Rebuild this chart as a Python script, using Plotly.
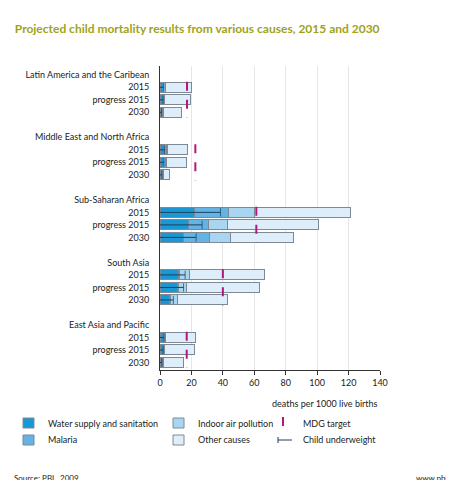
import plotly.graph_objects as go

regions = ["Latin America and the Caribean", "Middle East and North Africa",
           "Sub-Saharan Africa", "South Asia", "East Asia and Pacific"]
scenarios = ["2015", "progress 2015", "2030"]

# per region, per scenario (2015, progress 2015, 2030)
water = [[2, 2, 1], [3, 2.5, 1], [22, 18, 15], [12, 11.3, 6], [2.3, 2, 1.5]]
malaria = [[0.5, 0.5, 0.3], [1, 1, 0.5], [21.6, 12.6, 16.4], [0.5, 0.5, 0.5], [0.3, 0.3, 0.2]]
indoor = [[0.8, 0.5, 0.7], [1, 0.5, 0.5], [16.6, 12.2, 13.3], [6.5, 4.8, 4.5], [1.2, 0.7, 0.3]]
total = [[20, 19.6, 13.6], [17.5, 16.6, 6], [121.5, 101, 84.7], [66.4, 63.4, 42.8], [22.8, 22, 15]]
underweight = [[2.5, 2, 1], [3, 2.5, 1.2], [38.5, 26.8, 23], [16, 15, 8.5], [2.5, 2, 1.2]]
mdg = [17.2, 22.5, 61.3, 40, 17]

C_WATER, C_MAL, C_IND, C_OTH = "#1a98d5", "#63b4e4", "#aad5f1", "#ddedf9"
EDGE = "#7d8a96"
MDG_COL = "#b0177f"
UW_COL = "#1d3f5e"

# y positions: header row then 3 scenario rows, plus spacer
tickvals, ticktext, group_rows = [], [], []
pos = 0
for r in regions:
    tickvals.append(pos); ticktext.append(r)
    rows = []
    for s in scenarios:
        pos += 1
        rows.append(pos)
        tickvals.append(pos); ticktext.append(s)
    group_rows.append(rows)
    pos += 2

yy = [y for rows in group_rows for y in rows]
flat = lambda a: [v for g in a for v in g]
w, m, i, t = flat(water), flat(malaria), flat(indoor), flat(total)
other = [tt - a - b - c for tt, a, b, c in zip(t, w, m, i)]

fig = go.Figure()
bar_specs = [("Water supply and sanitation", w, C_WATER),
             ("Malaria", m, C_MAL),
             ("Indoor air pollution", i, C_IND),
             ("Other causes", other, C_OTH)]
for name, vals, col in bar_specs:
    fig.add_trace(go.Bar(y=yy, x=vals, orientation="h", name=name, width=0.8,
                         marker=dict(color=col, line=dict(color=EDGE, width=1))))

for gi, rows in enumerate(group_rows):
    fig.add_trace(go.Scatter(x=[mdg[gi], mdg[gi]], y=[rows[0] - 0.45, rows[-1] + 0.45],
                             mode="lines", line=dict(color=MDG_COL, dash="dash", width=2),
                             name="MDG target"))
    for k, y in enumerate(rows):
        fig.add_trace(go.Scatter(x=[0, underweight[gi][k]], y=[y, y], mode="lines+markers",
                                 line=dict(color=UW_COL, width=1),
                                 marker=dict(symbol="line-ns", size=[0, 6],
                                             line=dict(color=UW_COL, width=1)),
                                 name="Child underweight"))

fig.update_layout(
    width=454, height=480, barmode="stack", showlegend=False,
    plot_bgcolor="white", paper_bgcolor="white",
    font=dict(family="Lato, Open Sans, sans-serif", size=9, color="#222"),
    margin=dict(l=152, r=82, t=58, b=118, autoexpand=False),
    title=dict(text="<b>Projected child mortality results from various causes, 2015 and 2030</b>",
               x=0.015, y=0.965, xanchor="left", font=dict(size=12, color="#9ea31a")),
    xaxis=dict(range=[0, 140], dtick=20, showgrid=True, gridcolor="#e6e6e6",
               showline=True, linecolor="#333", ticks="outside", ticklen=4,
               tickcolor="#333", zeroline=False),
    yaxis=dict(tickvals=tickvals, ticktext=ticktext, autorange=False,
               range=[pos - 1.4, -0.7], showline=True, linecolor="#333",
               showgrid=False, zeroline=False, ticks="", ticklabelstandoff=8),
)
fig.add_annotation(text="deaths per 1000 live births", xref="paper", yref="paper",
                   x=1, y=-0.085, xanchor="right", yanchor="top", showarrow=False,
                   font=dict(size=9))

# manual legend (paper coords, px converted)
pw, ph = 454 - 152 - 82, 480 - 58 - 118
def px(xp): return (xp - 152) / pw
def py(yp): return (480 - 118 - yp) / ph

legend = [(15, 415, "Water supply and sanitation", "box", C_WATER),
          (15, 432, "Malaria", "box", C_MAL),
          (165, 415, "Indoor air pollution", "box", C_IND),
          (165, 432, "Other causes", "box", C_OTH),
          (270, 415, "MDG target", "mdg", MDG_COL),
          (270, 432, "Child underweight", "uw", UW_COL)]
for x0, yc, label, kind, col in legend:
    if kind == "box":
        fig.add_shape(type="rect", xref="paper", yref="paper",
                      x0=px(x0), x1=px(x0 + 11), y0=py(yc - 5), y1=py(yc + 5),
                      fillcolor=col, line=dict(color=EDGE, width=1))
    elif kind == "mdg":
        fig.add_shape(type="line", xref="paper", yref="paper",
                      x0=px(x0 + 5), x1=px(x0 + 5), y0=py(yc - 6), y1=py(yc + 6),
                      line=dict(color=MDG_COL, width=2, dash="dash"))
    else:
        fig.add_shape(type="line", xref="paper", yref="paper",
                      x0=px(x0), x1=px(x0 + 14), y0=py(yc), y1=py(yc),
                      line=dict(color=col, width=1))
        fig.add_shape(type="line", xref="paper", yref="paper",
                      x0=px(x0), x1=px(x0), y0=py(yc - 3), y1=py(yc + 3),
                      line=dict(color=col, width=1))
    fig.add_annotation(text=label, xref="paper", yref="paper", x=px(x0 + 23), y=py(yc),
                       xanchor="left", yanchor="middle", showarrow=False,
                       font=dict(size=9))

fig.add_annotation(text="Source: PBL, 2009", xref="paper", yref="paper",
                   x=px(4), y=py(470), xanchor="left", yanchor="middle", showarrow=False,
                   font=dict(size=8))
fig.add_annotation(text="www.pbl.nl", xref="paper", yref="paper",
                   x=px(450), y=py(470), xanchor="right", yanchor="middle", showarrow=False,
                   font=dict(size=8))

fig.write_html("out.html")
